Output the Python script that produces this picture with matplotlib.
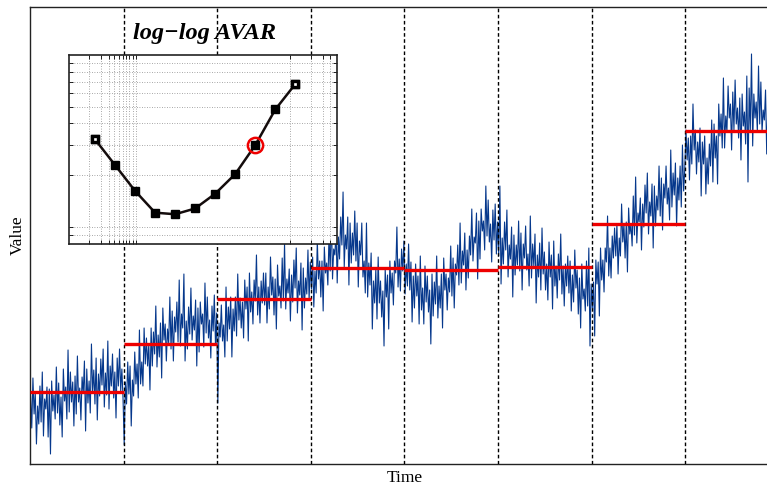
import matplotlib
matplotlib.use("Agg")
import matplotlib.pyplot as plt
import numpy as np

# ---------------- data ----------------
value_seg1 = [68, 36, 86, 50, 72, 20, 58, 40, 78, 42, 92, 28, 65, 55, 77, 27, 75, 10, 83, 53,
              69, 45, 97, 51, 81, 39, 67, 27, 95, 63, 77, 45, 114, 52, 92, 62, 82, 38, 88, 50,
              108, 62, 76, 44, 87, 71, 103, 33, 95, 61, 83, 51, 120, 72, 94, 60, 106, 44, 90, 68,
              105, 79, 115, 57, 91, 69, 123, 55, 98, 78, 110, 66, 92, 46, 106, 78, 115, 73, 95, 65]
value_seg2 = [19, 82, 60, 102, 70, 98, 38, 84, 68, 112, 80, 100, 66, 134, 80, 102, 78, 136, 100, 126,
              98, 120, 74, 136, 98, 132, 110, 158, 97, 129, 107, 141, 86, 156, 124, 140, 103, 135, 121, 167,
              115, 153, 103, 147, 132, 162, 122, 184, 118, 150, 136, 190, 103, 143, 115, 157, 130, 176, 124, 148,
              134, 164, 98, 156, 112, 162, 140, 150, 117, 181, 131, 167, 126, 144, 106, 158, 133, 169, 119, 151]
value_seg3 = [61, 141, 127, 159, 123, 139, 107, 177, 123, 157, 135, 167, 107, 155, 133, 167, 128, 190, 144, 166,
              136, 162, 126, 184, 155, 177, 123, 191, 152, 172, 140, 184, 163, 209, 149, 177, 141, 183, 161, 191,
              159, 191, 141, 177, 155, 207, 169, 187, 149, 185, 135, 199, 168, 178, 156, 206, 163, 221, 155, 185,
              171, 195, 143, 189, 162, 204, 176, 216, 151, 183, 169, 201, 134, 196, 156, 186, 170, 214, 164, 202]
value_seg4 = [175, 207, 157, 193, 171, 223, 185, 203, 167, 203, 153, 217, 191, 201, 179, 229, 193, 251, 185, 215,
              209, 233, 181, 227, 205, 247, 219, 272, 197, 229, 215, 247, 179, 241, 201, 231, 209, 253, 203, 241,
              177, 223, 209, 241, 187, 203, 171, 241, 167, 201, 179, 211, 135, 183, 161, 195, 145, 207, 161, 183,
              147, 173, 118, 195, 167, 189, 135, 203, 171, 191, 159, 203, 191, 237, 177, 205, 173, 215, 193, 223]
value_seg5 = [170, 200, 178, 220, 174, 202, 142, 188, 156, 200, 168, 188, 140, 208, 154, 176, 140, 198, 162, 188,
              152, 174, 120, 190, 148, 182, 160, 208, 146, 178, 156, 190, 136, 206, 174, 190, 154, 186, 172, 218,
              168, 206, 156, 200, 189, 219, 179, 241, 181, 213, 199, 231, 174, 214, 186, 228, 209, 255, 203, 227,
              221, 251, 185, 243, 205, 255, 233, 243, 214, 278, 228, 264, 222, 240, 202, 254, 224, 260, 210, 242]
value_seg6 = [208, 278, 180, 226, 200, 242, 214, 254, 187, 219, 205, 237, 167, 229, 189, 219, 199, 243, 193, 231,
              174, 220, 206, 238, 194, 210, 178, 248, 186, 220, 198, 230, 161, 209, 187, 221, 174, 236, 190, 212,
              174, 200, 164, 222, 187, 209, 155, 223, 178, 198, 166, 210, 184, 230, 170, 198, 158, 200, 178, 208,
              171, 203, 153, 189, 162, 214, 176, 194, 150, 186, 136, 200, 165, 175, 153, 203, 158, 216, 118, 180]
value_seg7 = [156, 182, 128, 204, 180, 202, 148, 216, 184, 204, 172, 216, 202, 248, 188, 216, 186, 228, 206, 236,
              208, 240, 190, 226, 208, 260, 222, 240, 206, 242, 192, 256, 230, 240, 218, 268, 229, 287, 221, 251,
              242, 266, 214, 260, 237, 279, 251, 291, 230, 262, 248, 280, 216, 278, 238, 268, 254, 298, 248, 286,
              234, 280, 266, 298, 260, 276, 244, 314, 257, 291, 269, 301, 238, 286, 264, 298, 257, 319, 273, 295]
value_seg8 = [334, 304, 326, 284, 328, 300, 360, 314, 334, 290, 322, 302, 336, 268, 322, 300, 328, 270, 306, 280,
              320, 298, 344, 282, 340, 306, 328, 280, 360, 328, 350, 316, 386, 316, 348, 332, 378, 346, 360, 314,
              372, 334, 384, 340, 356, 326, 366, 304, 370, 338, 352, 320, 388, 282, 376, 334, 410, 318, 370, 346,
              362, 332, 398, 340, 382, 332, 354, 344, 374, 310, 360, 324, 364, 346, 384, 332, 356, 320, 370, 338]

segment_edges = [0, 80, 160, 240, 320, 400, 480, 560, 640]
segment_means = [71.7, 120.0, 164.7, 196.3, 194.0, 196.7, 240.3, 332.7]

# inset: log-log Allan variance
tau = [1, 2, 4, 8, 16, 32, 64, 128, 256, 512, 1024]
avar = [3.23, 2.29, 1.62, 1.21, 1.185, 1.28, 1.56, 2.03, 2.99, 4.82, 6.78]
highlight_index = 8

# ---------------- figure ----------------
W, H = 767, 486
fig = plt.figure(figsize=(W / 100, H / 100), dpi=100)
serif = "Liberation Serif"

ax = fig.add_axes([30 / W, 22 / H, 749 / W, 457 / H])
value = np.concatenate([value_seg1, value_seg2, value_seg3, value_seg4,
                        value_seg5, value_seg6, value_seg7, value_seg8])
time = np.arange(value.size) + 0.5
ax.plot(time, value, color="#06388c", lw=0.8, zorder=2)

for e in segment_edges[1:-1]:
    ax.axvline(e, color="black", lw=1.0, ls=(0, (2.6, 1.8)), zorder=3)
for k, m in enumerate(segment_means):
    ax.hlines(m, segment_edges[k], segment_edges[k + 1], color="#ee0000", lw=2.4, zorder=4)

ax.set_xlim(segment_edges[0], segment_edges[-1])
ax.set_ylim(0, 457)
ax.set_xticks([])
ax.set_yticks([])
for s in ["left", "bottom", "top"]:
    ax.spines[s].set_color("#222222")
    ax.spines[s].set_linewidth(1.0)
ax.spines["right"].set_visible(False)
ax.set_xlabel("Time", fontsize=12.5, family=serif, labelpad=4)
ax.set_ylabel("Value", fontsize=12.5, family=serif, labelpad=3)

# ---------------- inset ----------------
axin = fig.add_axes([68.5 / W, (H - 244.5) / H, (337 - 68.5) / W, (244.5 - 55) / H])
axin.set_xscale("log", base=2)
axin.set_yscale("log")
axin.set_xlim(0.40, 4329)
axin.set_ylim(0.79, 10)
grid_x = [0.82, 1.23, 1.60, 1.95, 2.27, 2.61, 2.93, 3.28, 3.69, 4.14, 861, 1764, 2674, 3444]
grid_y = [0.9, 1, 2, 3, 4, 5, 6, 7, 8, 9]
axin.set_xticks(grid_x)
axin.set_xticks([], minor=True)
axin.set_yticks(grid_y)
axin.set_yticks([], minor=True)
axin.tick_params(which="both", direction="in", length=3, width=0.6, top=True, right=True,
                 labelbottom=False, labelleft=False)
axin.grid(True, which="major", color="#8a8a8a", lw=0.6, ls=(0, (1, 2)))
for s in axin.spines.values():
    s.set_color("#222222")
    s.set_linewidth(1.2)

axin.plot(tau, avar, color="#140c0c", lw=1.8, marker="s", ms=5.8,
          mfc="black", mec="black", zorder=3)
axin.plot([tau[0], tau[-1]], [avar[0], avar[-1]], ls="none", marker="s", ms=4.6,
          mfc="white", mec="black", mew=2.4, zorder=4)
axin.plot([tau[highlight_index]], [avar[highlight_index]], ls="none", marker="o", ms=11,
          mfc="none", mec="#ee0000", mew=1.8, zorder=5)

fig.text(205 / W, 1 - 33 / H, "log\u2212log AVAR", ha="center", va="center",
         fontsize=17.5, fontweight="bold", fontstyle="italic", family=serif)

fig.savefig("out.png", dpi=100)
